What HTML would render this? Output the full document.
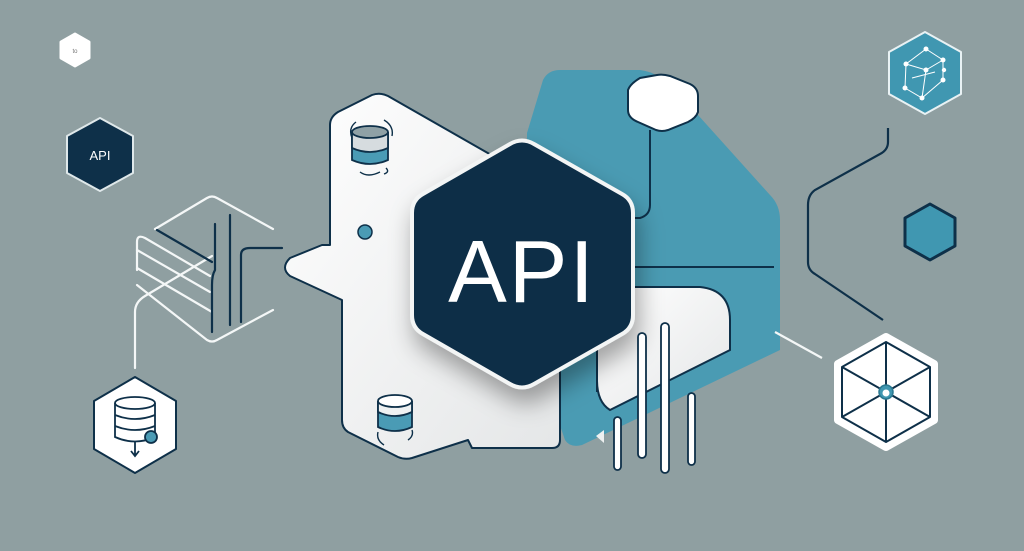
<!DOCTYPE html>
<html><head><meta charset="utf-8"><style>
html,body{margin:0;padding:0;background:#8f9fa1;}
svg{display:block}
</style></head><body>
<svg width="1024" height="551" viewBox="0 0 1024 551" xmlns="http://www.w3.org/2000/svg" font-family="Liberation Sans, sans-serif">
<defs>
<filter id="sh" x="-30%" y="-30%" width="160%" height="160%"><feDropShadow dx="4" dy="14" stdDeviation="12" flood-color="#000" flood-opacity="0.35"/></filter>
<linearGradient id="wg" x1="0" y1="0" x2="1" y2="1"><stop offset="0" stop-color="#ffffff"/><stop offset="1" stop-color="#e4e6e7"/></linearGradient>
</defs>
<rect width="1024" height="551" fill="#8f9fa1"/>

<!-- small top-left hex -->
<polygon points="75,34 89,42 89,58 75,66 61,58 61,42" fill="#fff" stroke="#fff" stroke-width="3" stroke-linejoin="round"/>
<text x="75" y="53" font-size="6" fill="#777" text-anchor="middle">to</text>

<!-- API small hex -->
<polygon points="100,118 133,136 133,173 100,191 67,173 67,136" fill="#0e3049" stroke="#dfe8ea" stroke-width="2" stroke-linejoin="round"/>
<text x="100" y="160" font-size="13" fill="#fff" text-anchor="middle">API</text>

<!-- left white line drawing -->
<g fill="none" stroke="#f4f7f7" stroke-width="2.2" stroke-linecap="round" stroke-linejoin="round">
<path d="M155,229 L207,198 Q212,195 217,198 L273,229"/>
<path d="M137,270 V242 Q137,234 145,238 L210,276"/>
<path d="M137,250 L210,292"/>
<path d="M137,268 L212,312"/>
<path d="M135,368 V312 Q135,302 145,296 L212,256"/>
<path d="M137,285 L207,340 Q212,343 217,340 L273,310"/>
</g>
<g fill="none" stroke="#0e3049" stroke-width="2.2" stroke-linecap="round">
<path d="M157,230 L212,262"/>
<path d="M215,224 V270 Q212,275 212,285 V332"/>
<path d="M230,215 V325"/>
<path d="M241,322 V255 Q241,248 250,248 H282"/>
</g>

<!-- bottom left DB hex -->
<polygon points="135,377 176,401 176,449 135,473 94,449 94,401" fill="#fff" stroke="#0e3049" stroke-width="2" stroke-linejoin="round"/>
<g fill="none" stroke="#0e3049" stroke-width="1.8">
<ellipse cx="135" cy="403" rx="20" ry="6"/>
<path d="M115,403 V437 Q135,446 155,437 V403"/>
<path d="M115,415 Q135,423 155,415"/>
<path d="M115,426 Q135,434 155,426"/>
<path d="M135,442 V455 M131,451 L135,456 L139,451"/>
</g>
<circle cx="151" cy="437" r="6" fill="#4a9bb5" stroke="#0e3049" stroke-width="1.8"/>

<!-- teal blob -->
<path d="M527,133 L543,80 Q548,70 560,70 L640,70 Q660,72 680,95 L770,195 Q780,205 780,220 L780,350 L582,445 Q570,448 565,440 L527,330 Z" fill="#4a9bb3"/>
<line x1="633" y1="267" x2="774" y2="267" stroke="#0e3049" stroke-width="2"/>

<!-- central white blob -->
<path d="M330,125 Q330,117 338,112 L372,95 Q380,92 388,96 L500,160 L560,330 L560,440 Q560,448 552,448 L472,448 L468,440 L412,458 Q405,460 398,457 L348,432 Q342,428 342,420 L342,300 L290,276 Q280,268 290,258 L322,245 L330,245 Z" fill="url(#wg)" stroke="#0e3049" stroke-width="2" stroke-linejoin="round"/>
<!-- white rounded rect right -->
<path d="M597,287 L700,287 Q730,290 730,320 L730,350 L610,410 Q597,402 597,380 Z" fill="url(#wg)" stroke="#0e3049" stroke-width="2"/>
<path d="M597,287 V392" stroke="#0e3049" stroke-width="2"/>
<polygon points="596,436 604,430 604,443" fill="#eef1f1"/>

<!-- top small white hex -->
<path d="M628,90 Q630,84 640,78 L657,75 Q663,74 670,76 L690,84 Q698,88 698,96 L698,112 Q696,118 688,122 L668,130 Q662,132 656,130 L638,122 Q628,118 628,110 Z" fill="#fff" stroke="#0e3049" stroke-width="2"/>
<path d="M650,130 V205 Q650,215 640,218 L633,218" fill="none" stroke="#0e3049" stroke-width="2"/>

<!-- cylinders -->
<g stroke="#0e3049" stroke-width="1.8">
<path d="M352,132 V160 Q370,168 388,160 V132" fill="#4a9bb5"/>
<path d="M352,132 V148 Q370,156 388,148 V132" fill="#d6dcdf"/>
<ellipse cx="370" cy="132" rx="18" ry="6" fill="#8fa1a6"/>
<path d="M378,401 V427 Q395,435 412,427 V401" fill="#4a9bb5"/>
<path d="M378,401 V412 Q395,420 412,412 V401" fill="#eef1f2"/>
<ellipse cx="395" cy="401" rx="17" ry="6" fill="#fff"/>
</g>
<g fill="none" stroke="#0e3049" stroke-width="1.4">
<path d="M356,122 Q348,128 352,138 M384,120 Q394,126 392,136 M360,172 Q368,178 380,172 M386,168 Q390,172 384,174"/>
<path d="M378,432 Q376,440 384,445 M408,440 Q414,436 412,430"/>
</g>
<circle cx="365" cy="232" r="7" fill="#4a9bb5" stroke="#0e3049" stroke-width="1.5"/>

<!-- API big hex -->
<g filter="url(#sh)">
<path d="M510,144 Q522,137 534,144 L622,194 Q633,200 633,213 L633,315 Q633,328 622,334 L534,384 Q522,391 510,384 L423,334 Q412,328 412,315 L412,213 Q412,200 423,194 Z" fill="#0c2d47" stroke="#f3f5f5" stroke-width="4"/>
</g>
<text x="522" y="302" font-size="88" fill="#fff" text-anchor="middle" letter-spacing="2">API</text>

<!-- bars -->
<g fill="#fff" stroke="#0e3049" stroke-width="1.8">
<rect x="614" y="417" width="7" height="53" rx="3.5"/>
<rect x="638" y="333" width="8" height="125" rx="4"/>
<rect x="661" y="323" width="8" height="150" rx="4"/>
<rect x="688" y="393" width="7" height="72" rx="3.5"/>
</g>

<!-- right side -->
<polygon points="925,32 961,52 961,94 925,114 889,94 889,52" fill="#4097b1" stroke="#e9f2f4" stroke-width="2" stroke-linejoin="round"/>
<g stroke="#fff" stroke-width="1" fill="none">
<path d="M926,49 L943,60 L943,80 L922,98 L905,88 L906,64 Z M906,64 L926,70 L943,60 M926,70 L922,98 M912,78 L935,72"/>
</g>
<g fill="#fff"><circle cx="926" cy="49" r="2.5"/><circle cx="943" cy="60" r="2.5"/><circle cx="943" cy="80" r="2.5"/><circle cx="922" cy="98" r="2.5"/><circle cx="905" cy="88" r="2.5"/><circle cx="906" cy="64" r="2.5"/><circle cx="926" cy="70" r="2.5"/><circle cx="944" cy="70" r="2.2"/></g>

<path d="M888,128 V142 Q888,150 880,154 L815,190 Q808,195 808,205 V262 Q808,270 815,274 L883,320" fill="none" stroke="#0e3049" stroke-width="2.2"/>
<polygon points="930,204 955,218 955,246 930,260 905,246 905,218" fill="#4097b1" stroke="#0e3049" stroke-width="3" stroke-linejoin="round"/>
<line x1="775" y1="332" x2="822" y2="358" stroke="#f4f7f7" stroke-width="2.2"/>

<polygon points="886,337 934,364 934,420 886,447 838,420 838,364" fill="#fff" stroke="#fff" stroke-width="8" stroke-linejoin="round"/>
<g stroke="#0e3049" stroke-width="2" fill="none" stroke-linejoin="round">
<polygon points="886,342 930,367 930,417 886,442 842,417 842,367"/>
<path d="M886,342 V442 M930,367 L842,417 M842,367 L930,417"/>
</g>
<circle cx="886" cy="392" r="7" fill="#4097b1" stroke="#2a7890" stroke-width="1.5"/>
<circle cx="886" cy="393" r="3.5" fill="#fff"/>
</svg>
</body></html>
